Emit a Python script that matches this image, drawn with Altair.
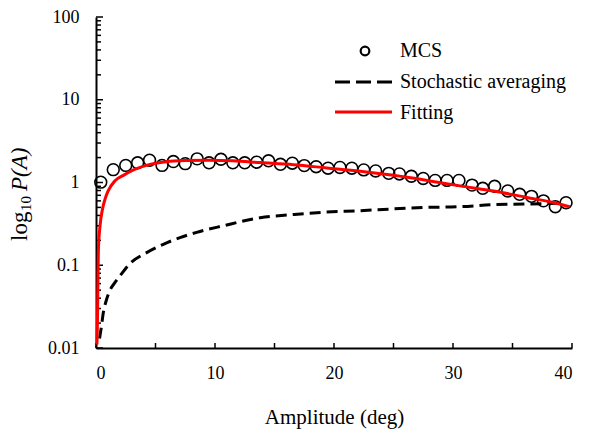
import altair as alt
import pandas as pd

# ---- data ----
mcs_x = [0.4, 1.45, 2.5, 3.5, 4.5, 5.55, 6.5, 7.5, 8.5, 9.5, 10.5, 11.5, 12.5, 13.5, 14.5,
         15.5, 16.5, 17.5, 18.5, 19.5, 20.5, 21.5, 22.5, 23.5, 24.6, 25.5, 26.5, 27.5, 28.5,
         29.5, 30.5, 31.6, 32.5, 33.5, 34.6, 35.6, 36.6, 37.6, 38.6, 39.5]
mcs_y = [1.01, 1.43, 1.61, 1.73, 1.86, 1.61, 1.79, 1.69, 1.93, 1.73, 1.91, 1.73, 1.73, 1.76,
         1.83, 1.66, 1.71, 1.60, 1.55, 1.49, 1.52, 1.49, 1.42, 1.38, 1.29, 1.27, 1.19, 1.12,
         1.06, 1.06, 1.06, 0.93, 0.85, 0.90, 0.79, 0.72, 0.68, 0.60, 0.51, 0.57]

sa_x = [0.3, 0.45, 0.6, 0.85, 1.18, 1.6, 2.0, 2.86, 4.26, 5.66, 7.06, 8.46, 10.7, 13.8, 16.6,
        19.4, 22.2, 25.0, 27.8, 30.6, 33.4, 36.2, 39.0]
sa_y = [0.013, 0.018, 0.026, 0.037, 0.05, 0.062, 0.074, 0.105, 0.142, 0.179, 0.216, 0.25,
        0.30, 0.376, 0.41, 0.44, 0.456, 0.48, 0.50, 0.51, 0.54, 0.55, 0.56]

fit_x = [0.08, 0.12, 0.16, 0.2, 0.34, 0.55, 0.76, 1.0, 1.6, 2.3, 3.1, 4.3, 5.9, 7.5, 9.5, 11.5,
         13.8, 16.6, 19.4, 22.2, 25.0, 27.8, 30.6, 33.4, 36.2, 38.5, 39.8]
fit_y = [0.011, 0.02, 0.06, 0.15, 0.3, 0.48, 0.63, 0.78, 1.05, 1.22, 1.41, 1.62, 1.78, 1.84,
         1.86, 1.83, 1.74, 1.64, 1.50, 1.37, 1.22, 1.06, 0.91, 0.79, 0.66, 0.57, 0.51]

x_labels = [0, 10, 20, 30, 40]
x_ticks = [0, 5, 10, 15, 20, 25, 30, 35, 40]
y_labels = [0.01, 0.1, 1, 10, 100]
y_minor = [m * d for d in [0.01, 0.1, 1, 10] for m in range(2, 10)]

legend_names = ["MCS", "Stochastic averaging", "Fitting"]

# ---- layout ----
W, H = 476, 331
FONT = "Liberation Serif"
xs = alt.Scale(domain=[0, 40], nice=False, zero=False)
ys = alt.Scale(type="log", domain=[0.01, 100], nice=False)

mcs_df = pd.DataFrame({"x": mcs_x, "y": mcs_y})
sa_df = pd.DataFrame({"x": sa_x, "y": sa_y})
fit_df = pd.DataFrame({"x": fit_x, "y": fit_y})

x_axis = alt.Axis(values=x_labels, format="d", title="Amplitude (deg)", grid=False,
                  ticks=False, tickSize=0, domainColor="black", domainWidth=2,
                  labelFont=FONT, labelFontSize=18, labelColor="black", labelPadding=16,
                  titleFont=FONT, titleFontSize=21, titleFontWeight="normal",
                  titleColor="black", titlePadding=24)
y_axis = alt.Axis(values=y_labels, format="~g", title=None, grid=False,
                  ticks=False, tickSize=0, domainColor="black", domainWidth=2,
                  labelFont=FONT, labelFontSize=18, labelColor="black", labelPadding=17)


def X(field):
    return alt.X(field, scale=xs, axis=x_axis)


def Y(field):
    return alt.Y(field, scale=ys, axis=y_axis)


mcs_pts = alt.Chart(mcs_df).mark_point(shape="circle", filled=False, color="black",
                                       strokeWidth=1.6, size=140, opacity=1).encode(
    x=X("x:Q"), y=Y("y:Q"))

sa_line = alt.Chart(sa_df).mark_line(color="black", strokeWidth=3, strokeDash=[11, 6],
                                     interpolate="monotone").encode(
    x=X("x:Q"), y=Y("y:Q"))

fit_line = alt.Chart(fit_df).mark_line(color="#ff0000", strokeWidth=3,
                                       interpolate="monotone").encode(
    x=X("x:Q"), y=Y("y:Q"))

xtick = alt.Chart(pd.DataFrame({"x": x_ticks})).mark_rule(color="black", strokeWidth=1.5).encode(
    x=X("x:Q"), y=alt.value(H), y2=alt.value(H - 5))
ytick_major = alt.Chart(pd.DataFrame({"y": y_labels})).mark_rule(color="black", strokeWidth=1.5).encode(
    y=Y("y:Q"), x=alt.value(0), x2=alt.value(7))
ytick_minor = alt.Chart(pd.DataFrame({"y": y_minor})).mark_rule(color="black", strokeWidth=1.5).encode(
    y=Y("y:Q"), x=alt.value(0), x2=alt.value(5))

# ---- legend (manual) ----
one = pd.DataFrame({"k": [0]})
leg_pt = alt.Chart(one).mark_point(shape="circle", filled=False, color="black",
                                   strokeWidth=2.2, size=75, opacity=1).encode(
    x=alt.value(269), y=alt.value(34))
leg_sa = alt.Chart(one).mark_rule(color="black", strokeWidth=3, strokeDash=[15, 6]).encode(
    x=alt.value(239), x2=alt.value(296), y=alt.value(65))
leg_fit = alt.Chart(one).mark_rule(color="#ff0000", strokeWidth=3).encode(
    x=alt.value(239), x2=alt.value(296), y=alt.value(95))
leg_txt = [
    alt.Chart(one).mark_text(text=name, align="left", baseline="middle", font=FONT,
                             fontSize=20, color="black").encode(
        x=alt.value(304), y=alt.value(yy))
    for name, yy in zip(legend_names, [34, 65, 96])
]

# ---- y title: log10 P(A) ----
yt_log = alt.Chart(one).mark_text(text="log", angle=270, align="left", baseline="alphabetic",
                                  font=FONT, fontSize=23, color="black").encode(
    x=alt.value(-69), y=alt.value(224))
yt_sub = alt.Chart(one).mark_text(text="10", angle=270, align="left", baseline="alphabetic",
                                  font=FONT, fontSize=15, color="black").encode(
    x=alt.value(-65), y=alt.value(194))
yt_p = alt.Chart(one).mark_text(text="P(A)", angle=270, align="left", baseline="alphabetic",
                                font=FONT, fontSize=23, fontStyle="italic", color="black").encode(
    x=alt.value(-69), y=alt.value(174))

chart = alt.layer(
    mcs_pts, xtick, ytick_major, ytick_minor, sa_line, fit_line,
    leg_pt, leg_sa, leg_fit, *leg_txt, yt_log, yt_sub, yt_p
).properties(
    width=W, height=H,
    autosize=alt.AutoSizeParams(type="none"),
    padding={"left": 88, "top": 9, "right": 12, "bottom": 86},
    background="white",
).configure_view(stroke=None)

chart.save("out.html", embed_options={"renderer": "svg", "actions": False})
